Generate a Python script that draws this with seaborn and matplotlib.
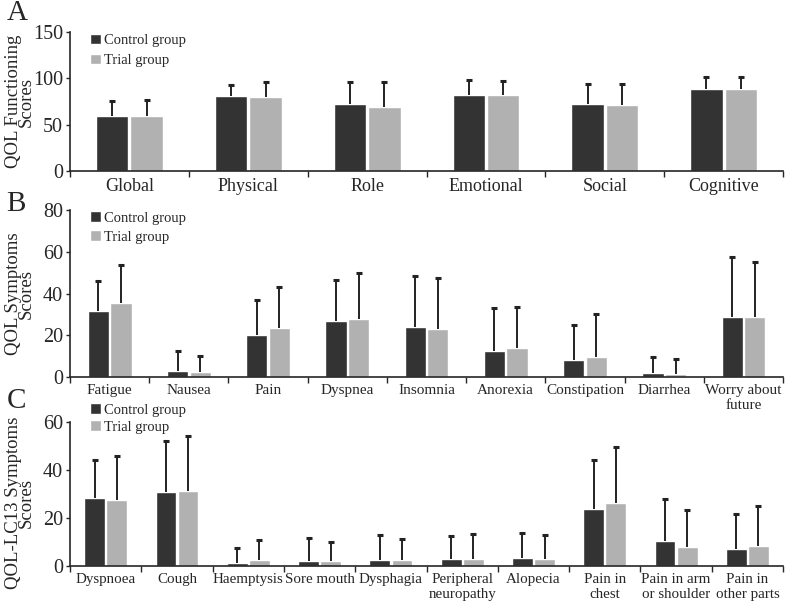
import numpy as np
import pandas as pd
import matplotlib
matplotlib.use('Agg')
import matplotlib.pyplot as plt
import seaborn as sns

# Panel A - QOL functioning
func_items = ['Global', 'Physical', 'Role', 'Emotional', 'Social', 'Cognitive']
func_control = [59, 81, 72, 82, 72, 88]
func_control_sd = [17, 12, 24, 16, 22, 14]
func_trial = [59, 80, 69, 82, 71, 88]
func_trial_sd = [18, 16, 27, 15, 23, 14]

# Panel B - QOL symptoms
sym_items = ['Fatigue', 'Nausea', 'Pain', 'Dyspnea', 'Insomnia', 'Anorexia',
             'Constipation', 'Diarrhea', 'Worry about\nfuture']
sym_control = [31.5, 3.0, 20.0, 27.0, 24.0, 12.5, 8.0, 1.8, 29.0]
sym_control_sd = [14.5, 9.5, 17.0, 19.5, 24.5, 20.5, 17.0, 7.7, 28.5]
sym_trial = [35.5, 2.5, 23.5, 28.0, 23.0, 14.0, 9.5, 1.3, 29.0]
sym_trial_sd = [18.0, 7.5, 19.5, 22.0, 24.5, 19.5, 20.5, 7.2, 26.0]

# Panel C - QOL-LC13 symptoms
lc_items = ['Dyspnoea', 'Cough', 'Haemptysis', 'Sore mouth', 'Dysphagia',
            'Peripheral\nneuropathy', 'Alopecia', 'Pain in\nchest',
            'Pain in arm\nor shoulder', 'Pain in\nother parts']
lc_control = [28.3, 30.8, 1.2, 2.2, 2.7, 3.0, 3.2, 23.6, 10.2, 6.9]
lc_control_sd = [15.7, 21.2, 6.4, 9.3, 10.3, 9.5, 10.5, 20.3, 17.7, 14.6]
lc_trial = [27.6, 31.0, 2.3, 2.0, 2.5, 3.1, 2.8, 26.4, 7.7, 8.5]
lc_trial_sd = [18.1, 23.0, 8.5, 8.0, 8.8, 10.2, 10.0, 23.1, 15.5, 16.4]

groups = ['Control group', 'Trial group']
colors = ['#333333', '#b1b1b1']

sns.set_style('ticks')
plt.rcParams['font.family'] = ['Liberation Serif', 'DejaVu Serif']


def make_df(items, c, csd, t, tsd):
    return pd.DataFrame({
        'item': items * 2,
        'group': [groups[0]] * len(items) + [groups[1]] * len(items),
        'mean': c + t,
        'sd': csd + tsd,
    })


def draw(ax, df, ymax, yticks, ylabel, width, xfont, leg_y, leg_sp, lab_y):
    sns.barplot(data=df, x='item', y='mean', hue='group', hue_order=groups,
                palette=colors, width=width, gap=0.06, errorbar=None,
                saturation=1, ax=ax, legend=True)
    # upper-only error bars, cap only at the top
    for cont, g in zip(ax.containers, groups):
        sd = df[df['group'] == g]['sd'].values
        for bar, s in zip(cont, sd):
            x = bar.get_x() + bar.get_width() / 2
            h = bar.get_height()
            ax.vlines(x, h, h + s, color='#222222', lw=1.4, zorder=3)
            ax.plot([x], [h + s], marker='_', ms=5, mew=2.2,
                    color='#222222', zorder=3)
    n = len(df['item'].unique())
    ax.set_xlim(-0.5, n - 0.5)
    ax.set_ylim(0, ymax)
    ax.set_yticks(yticks)
    ax.set_xlabel('')
    ax.set_ylabel(ylabel, fontsize=13.5, linespacing=0.72)
    ax.yaxis.set_label_coords(-0.049, lab_y)
    ax.tick_params(axis='y', labelsize=14.5, length=3, width=1, pad=2)
    ax.tick_params(axis='x', which='major', length=0, labelsize=xfont, pad=5)
    ax.set_xticks(np.arange(-0.5, n, 1.0), minor=True)
    ax.tick_params(axis='x', which='minor', length=4, width=1, direction='out')
    for side in ['top', 'right']:
        ax.spines[side].set_visible(False)
    for side in ['left', 'bottom']:
        ax.spines[side].set_linewidth(1.2)
    sns.move_legend(ax, 'upper left', bbox_to_anchor=(0.02, leg_y),
                    frameon=False, title=None, fontsize=10.5,
                    handlelength=0.75, handleheight=0.75, handletextpad=0.2,
                    labelspacing=leg_sp, borderaxespad=0)


fig = plt.figure(figsize=(7.87, 6.06), dpi=100)
axA = fig.add_axes([0.089, 0.718, 0.906, 0.229])
axB = fig.add_axes([0.089, 0.378, 0.906, 0.275])
axC = fig.add_axes([0.089, 0.066, 0.906, 0.238])

draw(axA, make_df(func_items, func_control, func_control_sd, func_trial, func_trial_sd),
     150, [0, 50, 100, 150], 'QOL Functioning\nScores', 0.58, 13, 1.03, 0.45, 0.5)
draw(axB, make_df(sym_items, sym_control, sym_control_sd, sym_trial, sym_trial_sd),
     80, [0, 20, 40, 60, 80], 'QOL Symptoms\nScores', 0.57, 11, 1.03, 0.4, 0.5)
draw(axC, make_df(lc_items, lc_control, lc_control_sd, lc_trial, lc_trial_sd),
     60, [0, 20, 40, 60], 'QOL-LC13 Symptoms\nScores', 0.62, 10.8, 1.17, 0.25, 0.44)

fig.text(0.008, 1.0, 'A', fontsize=21, va='top')
fig.text(0.008, 0.685, 'B', fontsize=21, va='top')
fig.text(0.008, 0.36, 'C', fontsize=21, va='top')

fig.savefig('out.png', dpi=100)
